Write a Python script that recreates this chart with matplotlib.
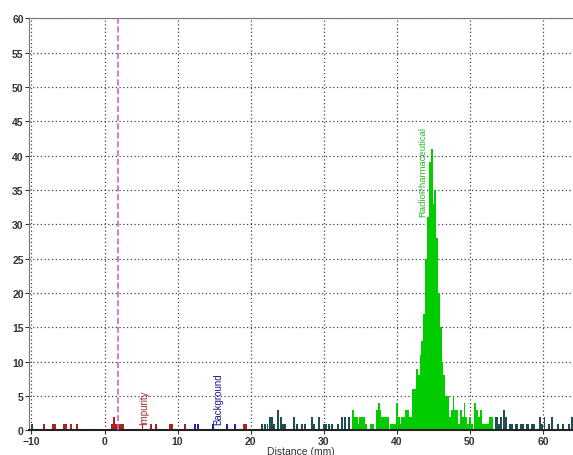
import numpy as np
import matplotlib
matplotlib.use("Agg")
from matplotlib import pyplot as plt

plt.rcParams['font.family'] = ['Liberation Sans', 'DejaVu Sans']

# background counts (dark teal)
teal_x = [-9.9, 21.5, 21.9, 22.3, 22.6, 22.9, 23.2, 23.8, 24.1, 24.4, 24.7,
          25.9, 26.3, 27.0, 27.4, 28.4, 28.7, 29.3, 30.0, 30.3, 30.7, 31.1,
          32.0, 32.5, 32.9, 33.5,
          53.5, 53.75, 54.0, 54.25, 54.6, 54.9, 55.5, 55.75, 56.25, 56.5,
          57.0, 57.25, 57.75, 58.0, 58.5, 58.75, 59.6, 59.9, 60.2, 60.8,
          61.2, 62.0, 62.7, 63.6, 64.0]
teal_y = [1, 1, 1, 1, 2, 2, 1, 3, 2, 1, 1,
          2, 1, 1, 1, 2, 1, 2, 1, 1, 1, 1,
          1, 2, 2, 2,
          2, 2, 1, 2, 3, 2, 1, 1, 1, 1,
          1, 1, 1, 1, 1, 1, 2, 1, 2, 1,
          2, 1, 1, 1, 2]

# impurity region (red)
red_x = [-8.3, -7.0, -6.75, -5.6, -5.3, -4.6, -3.8, 1.0, 1.25, 1.5, 1.75,
         2.0, 2.25, 2.5, 5.2, 6.4, 7.1, 9.0, 9.25, 11.0, 19.1, 19.4]
red_y = [1, 1, 1, 1, 1, 1, 1, 1, 2, 1, 1,
         1, 1, 1, 1, 1, 1, 1, 1, 1, 1, 1]

# background region (blue)
blue_x = [12.4, 12.8, 14.8, 16.7, 17.9]
blue_y = [1, 1, 1, 1, 1]

# radiopharmaceutical peak (green), 0.25 mm bins from 34.0 to 53.0
green_start = 34.0
green_y = [3, 2, 2, 1, 2, 2, 2, 1, 0, 0, 1, 1, 0, 3, 4, 3, 2, 2, 2, 2,
           0, 1, 1, 1, 4, 2, 1, 2, 2, 3, 3, 2, 2, 6, 6, 9, 8, 11, 13, 17,
           25, 31, 39, 41, 33, 35, 28, 20, 15, 10, 8, 5, 5, 2, 3, 5, 3, 3,
           1, 3, 2, 4, 2, 1, 2, 1, 0, 4, 3, 2, 3, 1, 1, 1, 1, 2, 2]
green_x = green_start + 0.25 * np.arange(len(green_y))

origin_x = 1.8

fig = plt.figure(figsize=(5.73, 4.56), dpi=100)
ax = fig.add_axes([0.051, 0.054, 0.949, 0.904])

w = 0.27
ax.bar(teal_x, teal_y, width=w, color='#1f4f50', linewidth=0)
ax.bar(red_x, red_y, width=w, color='#b3201c', linewidth=0)
ax.bar(blue_x, blue_y, width=w, color='#2020b0', linewidth=0)
ax.bar(green_x, green_y, width=0.26, color='#00cc00', linewidth=0)

ax.axvline(origin_x, color='#cc66cc', linestyle='--', linewidth=1.2, zorder=3)

ax.text(5.4, 0.9, 'Impurity', rotation=90, ha='center', va='bottom',
        fontsize=7, color='#a52a2a')
ax.text(15.6, 1.0, 'Background', rotation=90, ha='center', va='bottom',
        fontsize=7, color='#1a1a8c')
ax.text(43.5, 31.2, 'RadioPharmaceutical', rotation=90, ha='center', va='bottom',
        fontsize=6.8, color='#22bb22')

ax.set_xlim(-10.3, 64.1)
ax.set_ylim(0, 60)
ax.set_xticks(np.arange(-10, 61, 10))
ax.set_yticks(np.arange(0, 61, 5))
ax.grid(True, linestyle=(0, (1, 2)), color='#444444', linewidth=0.9)
ax.set_axisbelow(True)

ax.tick_params(labelsize=7.5, length=3, width=0.8, colors='#333333', pad=1)
for lab in ax.get_xticklabels() + ax.get_yticklabels():
    lab.set_fontweight('bold')

ax.spines['right'].set_visible(False)
ax.spines['top'].set_color('#777777')
ax.spines['left'].set_color('#777777')
ax.spines['bottom'].set_color('#222222')
ax.spines['bottom'].set_linewidth(1.5)

ax.set_xlabel('Distance (mm)', fontsize=7.5, color='#333333', labelpad=0)

fig.savefig('out.png', dpi=100)
